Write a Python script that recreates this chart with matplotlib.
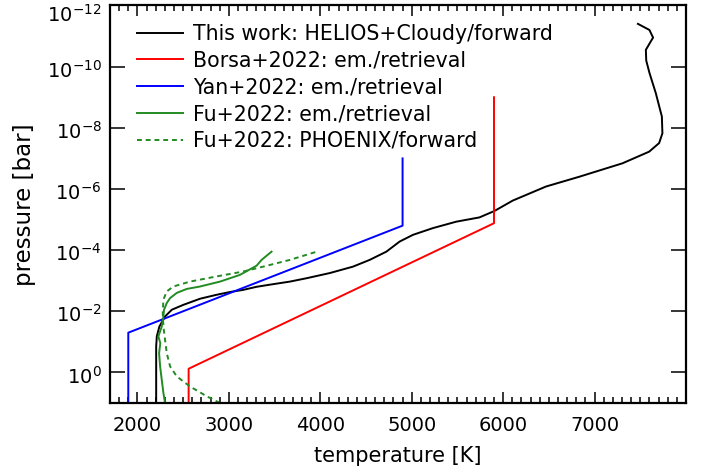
import numpy as np
import matplotlib
matplotlib.use("Agg")
import matplotlib.pyplot as plt
from matplotlib.ticker import FixedLocator, MultipleLocator, NullLocator
from matplotlib.transforms import ScaledTranslation

# ---- data (temperature [K], log10 pressure [bar]) ----
black_T = [2205, 2205, 2212, 2240, 2302, 2376, 2502, 2685, 2867, 3012, 3157, 3303,
           3449, 3558, 3667, 3849, 4104, 4358, 4540, 4723, 4868, 5014, 5232, 5487,
           5741, 5905, 6105, 6469, 6833, 7306, 7597, 7706, 7742, 7736, 7670, 7600,
           7565, 7561, 7600, 7640, 7600, 7474]
black_logP = [1.0, -0.85, -1.18, -1.50, -1.83, -2.05, -2.21, -2.41, -2.54, -2.63, -2.70, -2.80,
              -2.87, -2.92, -2.97, -3.08, -3.25, -3.46, -3.68, -3.95, -4.28, -4.50, -4.72, -4.93,
              -5.07, -5.28, -5.62, -6.08, -6.40, -6.84, -7.22, -7.50, -7.82, -8.37, -9.13, -9.80,
              -10.2, -10.55, -10.75, -10.95, -11.2, -11.40]

borsa_T = [2560, 2560, 5900, 5900]
borsa_logP = [1.0, -0.12, -4.88, -9.0]

yan_T = [1900, 1900, 4900, 4900]
yan_logP = [1.0, -1.30, -4.80, -7.0]

fu_T = [2302, 2284, 2266, 2248, 2237, 2250, 2229, 2266, 2284, 2291, 2321, 2357,
        2430, 2539, 2685, 2903, 3121, 3303, 3358, 3467]
fu_logP = [1.0, 0.67, 0.24, -0.20, -0.63, -0.96, -1.18, -1.50, -1.83, -2.05, -2.27, -2.43,
           -2.60, -2.73, -2.81, -2.97, -3.19, -3.49, -3.68, -3.95]

fuph_T = [2903, 2758, 2575, 2430, 2357, 2321, 2302, 2284, 2277, 2284, 2321, 2393,
          2575, 2867, 3157, 3376, 3667, 3951]
fuph_logP = [1.0, 0.78, 0.46, 0.13, -0.20, -0.63, -1.07, -1.50, -1.94, -2.38, -2.65, -2.81,
             -2.97, -3.14, -3.30, -3.46, -3.68, -3.94]

labels = ["This work: HELIOS+Cloudy/forward",
          "Borsa+2022: em./retrieval",
          "Yan+2022: em./retrieval",
          "Fu+2022: em./retrieval",
          "Fu+2022: PHOENIX/forward"]

x_ticks = [2000, 3000, 4000, 5000, 6000, 7000]
y_ticks = [1e-12, 1e-10, 1e-8, 1e-6, 1e-4, 1e-2, 1e0]

plt.rcParams['font.family'] = ['DejaVu Sans']
plt.rcParams['mathtext.fontset'] = 'dejavusans'

fig = plt.figure(figsize=(7.02, 4.73), dpi=100)
ax = fig.add_axes([110/702, 1-403/473, (686-110)/702, (403-5.5)/473])

green = '#228B22'
lw = 1.4
ax.plot(black_T, 10**np.array(black_logP), color='black', lw=lw, label=labels[0])
ax.plot(borsa_T, 10**np.array(borsa_logP), color='red', lw=lw, label=labels[1])
ax.plot(yan_T, 10**np.array(yan_logP), color='blue', lw=lw, label=labels[2])
ax.plot(fu_T, 10**np.array(fu_logP), color=green, lw=lw, label=labels[3])
ax.plot(fuph_T, 10**np.array(fuph_logP), color=green, lw=lw, ls=(0, (2.5, 2)), label=labels[4])

ax.set_yscale('log')
ax.set_xlim(1700, 8000)
ax.set_ylim(1e1, 1e-12)
ax.yaxis.set_major_locator(FixedLocator(y_ticks))
ax.yaxis.set_minor_locator(NullLocator())
ax.xaxis.set_major_locator(FixedLocator(x_ticks))
ax.xaxis.set_minor_locator(MultipleLocator(100))

ax.tick_params(axis='both', which='both', direction='in', top=True, right=True,
               labelsize=14, colors='black')
ax.tick_params(axis='x', which='major', length=8, width=1.1, pad=9)
ax.tick_params(axis='x', which='minor', length=4, width=1.1)
ax.tick_params(axis='y', which='major', length=11, width=1.1, pad=6)
for s in ax.spines.values():
    s.set_linewidth(1.6)

fig.canvas.draw()
ylabs = ax.get_yticklabels()
for lab in ylabs:
    lab.set_transform(lab.get_transform() + ScaledTranslation(0, -2/100, fig.dpi_scale_trans))
ylabs[0].set_transform(ylabs[0].get_transform() + ScaledTranslation(0, -5/100, fig.dpi_scale_trans))

ax.set_xlabel('temperature [K]', fontsize=15, labelpad=8)
ax.set_ylabel('pressure [bar]', fontsize=16.5, labelpad=8)

ax.legend(loc='upper left', frameon=False, fontsize=14.8, handlelength=2.2,
          handletextpad=0.5, labelspacing=0.33, borderaxespad=0.2,
          bbox_to_anchor=(0.026, 0.985))

fig.savefig('out.png', dpi=100)
